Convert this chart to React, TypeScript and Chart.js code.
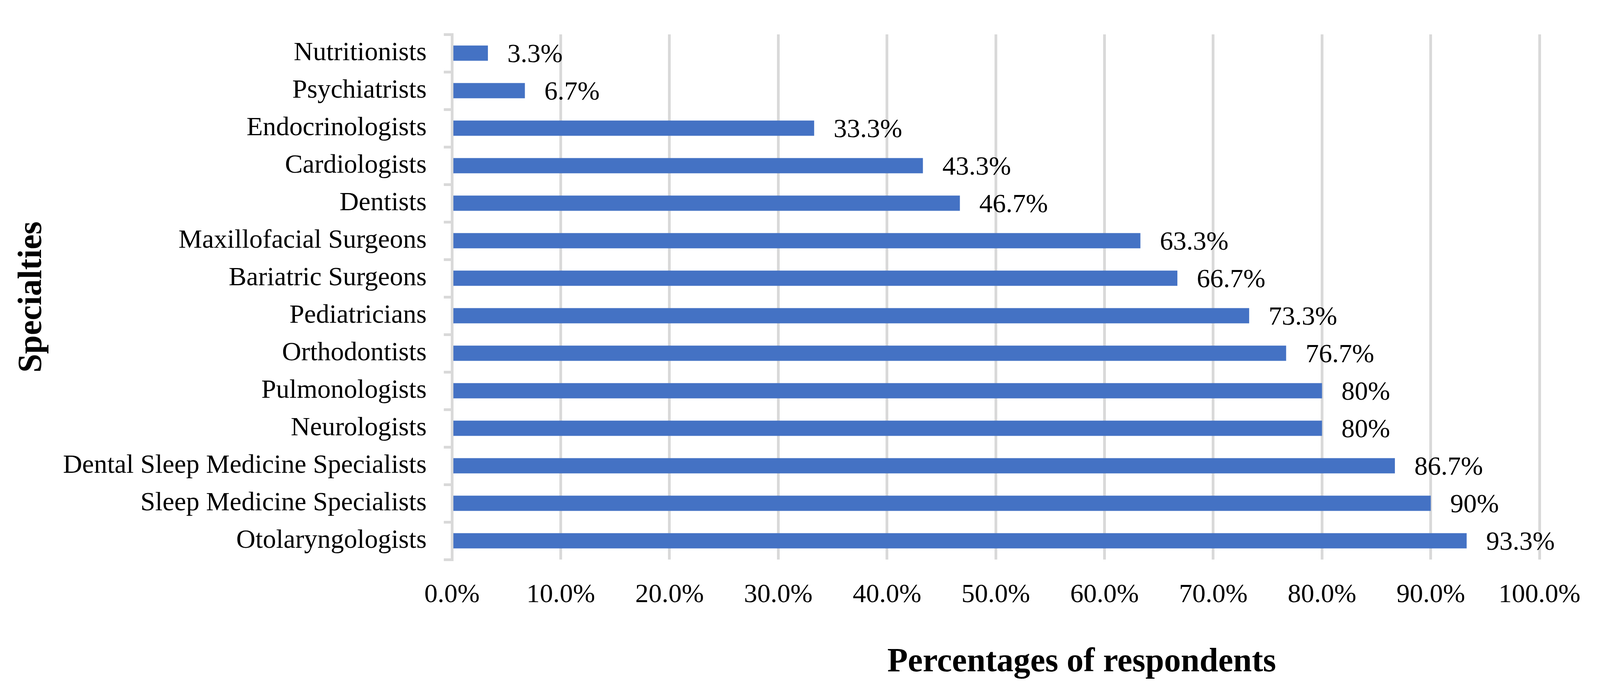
import React, { useEffect, useRef } from "react";
import { Chart, registerables } from "chart.js";

Chart.register(...registerables);

const categories = [
  "Nutritionists",
  "Psychiatrists",
  "Endocrinologists",
  "Cardiologists",
  "Dentists",
  "Maxillofacial Surgeons",
  "Bariatric Surgeons",
  "Pediatricians",
  "Orthodontists",
  "Pulmonologists",
  "Neurologists",
  "Dental Sleep Medicine Specialists",
  "Sleep Medicine Specialists",
  "Otolaryngologists",
];

const percentages = [3.3, 6.7, 33.3, 43.3, 46.7, 63.3, 66.7, 73.3, 76.7, 80, 80, 86.7, 90, 93.3];

const xTickMin = 0;
const xTickMax = 100;
const xTickStep = 10;

const xTitle = "Percentages of respondents";
const yTitle = "Specialties";

const FONT = "'Liberation Serif', 'DejaVu Serif', serif";
const REF_W = 4283;
const REF_H = 1771;

export default function App() {
  const ref = useRef<HTMLCanvasElement | null>(null);
  const W = typeof window !== "undefined" ? window.innerWidth : REF_W;
  const H = typeof window !== "undefined" ? window.innerHeight : REF_H;

  useEffect(() => {
    document.body.style.margin = "0";
    const canvas = ref.current;
    if (!canvas) return;
    const sx = W / REF_W;
    const sy = H / REF_H;

    const labelsPlugin = {
      id: "barValueLabels",
      afterDatasetsDraw(chart: any) {
        const ctx = chart.ctx;
        const meta = chart.getDatasetMeta(0);
        ctx.save();
        ctx.fillStyle = "#000";
        ctx.font = `68px ${FONT}`;
        ctx.textAlign = "left";
        ctx.textBaseline = "middle";
        meta.data.forEach((bar: any, i: number) => {
          ctx.fillText(String(percentages[i]) + "%", bar.x + 52 * sx, bar.y + 5 * sy);
        });
        ctx.restore();
      },
    };

    const titlesPlugin = {
      id: "axisTitles",
      afterDraw(chart: any) {
        const ctx = chart.ctx;
        const area = chart.chartArea;
        ctx.save();
        ctx.fillStyle = "#000";
        ctx.font = `bold 86px ${FONT}`;
        ctx.textAlign = "center";
        ctx.textBaseline = "alphabetic";
        ctx.fillText(xTitle, area.left + (area.right - area.left) * 0.579, 1718 * sy);
        ctx.translate(110 * sx, (area.top + area.bottom) / 2);
        ctx.rotate(-Math.PI / 2);
        ctx.fillText(yTitle, 0, 0);
        ctx.restore();
      },
    };

    const chart = new Chart(canvas, {
      type: "bar",
      data: {
        labels: categories,
        datasets: [
          {
            data: percentages,
            backgroundColor: "#4472C4",
            borderWidth: 0,
            barPercentage: 0.405,
            categoryPercentage: 1,
          },
        ],
      },
      plugins: [labelsPlugin, titlesPlugin],
      options: {
        indexAxis: "y",
        animation: false,
        responsive: false,
        devicePixelRatio: 1,
        layout: { padding: { top: 88 * sy, right: 149 * sx, left: 0, bottom: 0 } },
        plugins: {
          legend: { display: false },
          tooltip: { enabled: false },
          title: { display: false },
        },
        scales: {
          x: {
            min: xTickMin,
            max: xTickMax,
            ticks: {
              stepSize: xTickStep,
              color: "#000",
              font: { family: FONT, size: 68 },
              padding: 50 * sy,
              callback: (v: any) => Number(v).toFixed(1) + "%",
            },
            grid: {
              color: "#d9d9d9",
              lineWidth: 7,
              drawTicks: false,
            },
            border: { display: false },
            afterFit: (scale: any) => {
              scale.height = H - 1432 * sy;
            },
          },
          y: {
            ticks: {
              color: "#000",
              font: { family: FONT, size: 68 },
              padding: 46 * sx,
            },
            grid: {
              display: true,
              drawOnChartArea: false,
              drawTicks: true,
              tickLength: 22 * sx,
              color: "#d9d9d9",
              lineWidth: 7,
            },
            border: { display: true, color: "#d9d9d9", width: 7 },
            afterFit: (scale: any) => {
              scale.width = 1210 * sx;
            },
          },
        },
      },
    });

    return () => {
      chart.destroy();
    };
  }, []);

  return (
    <div style={{ position: "fixed", left: 0, top: 0, width: W, height: H, background: "#fff" }}>
      <canvas ref={ref} width={W} height={H} style={{ width: W, height: H, display: "block" }} />
    </div>
  );
}
